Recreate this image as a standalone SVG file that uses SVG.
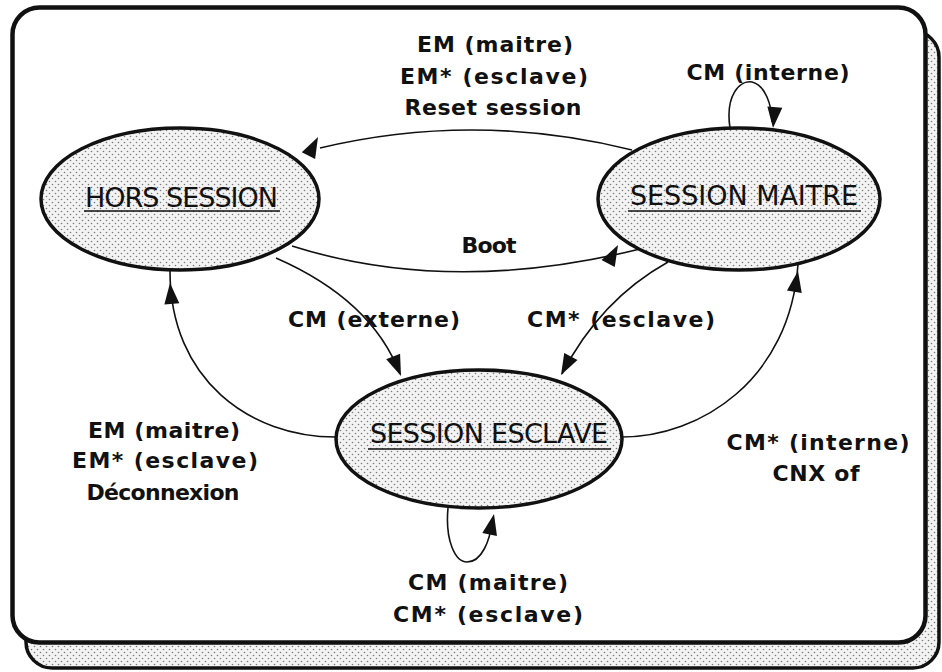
<svg xmlns="http://www.w3.org/2000/svg" xmlns:xlink="http://www.w3.org/1999/xlink" width="942" height="672" viewBox="0 0 942 672">
  <defs>
    <pattern id="dots" width="6" height="6" patternUnits="userSpaceOnUse">
      <rect width="6" height="6" fill="#f3f3f3"/>
      <circle cx="1.5" cy="1.5" r="0.8" fill="#7a7a7a"/>
      <circle cx="4.5" cy="4.5" r="0.8" fill="#7a7a7a"/>
    </pattern>
    <polygon id="ah" points="0,0 -21,-7.5 -21,7.5"/>
  </defs>
  <style>
    .node { fill: url(#dots); stroke: #111; stroke-width: 3.5; }
    .ntxt { font-family: "DejaVu Sans", "Liberation Sans", sans-serif; font-size: 27px; fill: #111; text-anchor: middle; }
    .ul { stroke: #111; stroke-width: 1.6; }
    .lbl { font-family: "DejaVu Sans", "Liberation Sans", sans-serif; font-weight: bold; font-size: 22px; fill: #111; text-anchor: middle; }
    .edge { fill: none; stroke: #111; stroke-width: 1.6; }
    .head { fill: #111; }
  </style>

  <rect width="942" height="672" fill="#ffffff"/>

  <g id="frame">
    <rect x="26" y="31" width="913" height="637" rx="26" ry="26" fill="url(#dots)" stroke="#111" stroke-width="3.5"/>
    <rect x="12.5" y="7.5" width="913" height="635" rx="27" ry="27" fill="#ffffff" stroke="#111" stroke-width="4.5"/>
  </g>

  <g id="connectors">
    <path class="edge" d="M 632 150 Q 475 111 320 148"/>
    <use href="#ah" class="head" transform="translate(318,137) rotate(-63)"/>

    <path class="edge" d="M 292 246 Q 450 296 640 249"/>
    <use href="#ah" class="head" transform="translate(618,245) rotate(-62)"/>

    <path class="edge" d="M 276 258 Q 372 300 400 374"/>
    <use href="#ah" class="head" transform="translate(401,376) rotate(68)"/>

    <path class="edge" d="M 668 262 Q 600 300 562 374"/>
    <use href="#ah" class="head" transform="translate(561,375) rotate(118)"/>

    <path class="edge" d="M 622 437 C 700 437, 790 380, 798 264"/>
    <use href="#ah" class="head" transform="translate(798,271) rotate(-80)"/>

    <path class="edge" d="M 336 437 C 250 437, 170 380, 170 271"/>
    <use href="#ah" class="head" transform="translate(170,283) rotate(-95)"/>

    <path class="edge" d="M 730 128 C 725 95, 740 80, 752 82 C 765 85, 772 105, 772 122"/>
    <use href="#ah" class="head" transform="translate(773,128) rotate(95)"/>

    <path class="edge" d="M 448 508 C 445 540, 455 562, 467 562 C 482 562, 490 540, 492 522"/>
    <use href="#ah" class="head" transform="translate(494,514) rotate(-78)"/>
  </g>

  <g id="hors-session">
    <ellipse class="node" cx="180" cy="199" rx="139" ry="71"/>
    <text class="ntxt" x="181.5" y="207" textLength="193">HORS SESSION</text>
    <line class="ul" x1="84" y1="211" x2="280" y2="211"/>
  </g>

  <g id="session-maitre">
    <ellipse class="node" cx="739" cy="199" rx="141" ry="71"/>
    <text class="ntxt" x="744" y="205" textLength="228">SESSION MAITRE</text>
    <line class="ul" x1="628" y1="211" x2="861" y2="211"/>
  </g>

  <g id="session-esclave">
    <ellipse class="node" cx="479" cy="439" rx="143" ry="69"/>
    <text class="ntxt" x="489" y="443" textLength="238">SESSION ESCLAVE</text>
    <line class="ul" x1="368" y1="449" x2="611" y2="449"/>
  </g>

  <g id="labels">
    <text class="lbl" x="495" y="52" textLength="156">EM (maitre)</text>
    <text class="lbl" x="494" y="84" textLength="188">EM* (esclave)</text>
    <text class="lbl" x="493" y="115" textLength="177">Reset session</text>
    <text class="lbl" x="768" y="80" textLength="163">CM (interne)</text>
    <text class="lbl" x="489" y="253" textLength="55">Boot</text>
    <text class="lbl" x="374" y="327" textLength="172">CM (externe)</text>
    <text class="lbl" x="621" y="327" textLength="188">CM* (esclave)</text>
    <text class="lbl" x="164" y="438" textLength="152">EM (maitre)</text>
    <text class="lbl" x="165" y="468" textLength="186">EM* (esclave)</text>
    <text class="lbl" x="163" y="500" textLength="153">Déconnexion</text>
    <text class="lbl" x="818" y="450" textLength="183">CM* (interne)</text>
    <text class="lbl" x="816" y="481" textLength="87">CNX of</text>
    <text class="lbl" x="488" y="590" textLength="160">CM (maitre)</text>
    <text class="lbl" x="488" y="622" textLength="190">CM* (esclave)</text>
  </g>
</svg>
